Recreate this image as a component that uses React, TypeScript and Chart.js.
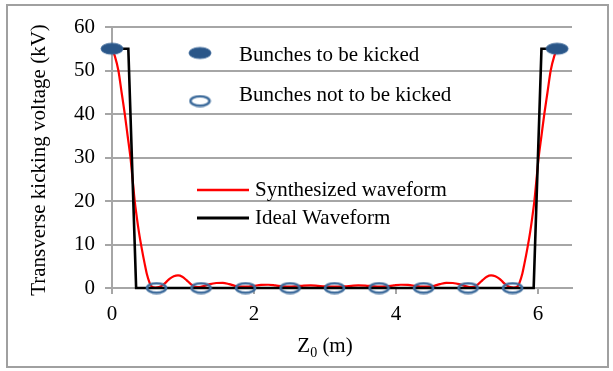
import React, { useEffect, useRef } from "react";
import { Chart, registerables } from "chart.js";
Chart.register(...registerables);

// Synthesized waveform (kV) vs Z0 (m)
const synthX = [
  0, 0.04, 0.09, 0.135, 0.18, 0.22, 0.26, 0.29, 0.32, 0.35, 0.38, 0.42, 0.46, 0.49, 0.53, 0.56,
  0.61, 0.66, 0.71, 0.76, 0.81, 0.87, 0.93, 0.99, 1.05, 1.11, 1.17, 1.23, 1.3, 1.38, 1.47, 1.56,
  1.65, 1.73, 1.81, 1.9, 2.0, 2.1, 2.2, 2.3, 2.4, 2.5, 2.6, 2.7, 2.8, 2.9, 3.0, 3.135,
  3.27, 3.37, 3.47, 3.57, 3.67, 3.77, 3.87, 3.97, 4.07, 4.17, 4.27, 4.37, 4.46, 4.54, 4.62, 4.71,
  4.8, 4.89, 4.97, 5.04, 5.1, 5.16, 5.22, 5.28, 5.34, 5.4, 5.46, 5.51, 5.56, 5.61, 5.66, 5.71,
  5.74, 5.78, 5.81, 5.85, 5.89, 5.92, 5.95, 5.98, 6.01, 6.05, 6.09, 6.135, 6.18, 6.23, 6.27,
];
const synthY = [
  55, 53.3, 50, 45, 40, 35, 30, 25, 20, 16.2, 12.8, 9, 5.6, 3.3, 1.2, 0.3,
  0.1, 0.2, 0.6, 1.3, 2.1, 2.7, 2.9, 2.6, 1.8, 0.9, 0.3, 0.2, 0.5, 0.9, 1.15, 1.2,
  0.9, 0.5, 0.3, 0.3, 0.5, 0.7, 0.75, 0.6, 0.4, 0.3, 0.4, 0.55, 0.6, 0.5, 0.4, 0.35,
  0.4, 0.5, 0.6, 0.55, 0.4, 0.3, 0.4, 0.6, 0.75, 0.7, 0.5, 0.3, 0.3, 0.5, 0.9, 1.2,
  1.15, 0.9, 0.5, 0.2, 0.3, 0.9, 1.8, 2.6, 2.9, 2.7, 2.1, 1.3, 0.6, 0.2, 0.1, 0.3,
  1.2, 3.3, 5.6, 9, 12.8, 16.2, 20, 25, 30, 35, 40, 45, 50, 53.3, 55,
];

// Ideal waveform
const idealX = [0, 0.23, 0.34, 5.94, 6.05, 6.27];
const idealY = [55, 55, 0, 0, 55, 55];

// Bunches
const kickedX = [0, 6.27];
const kickedY = [55, 55];
const notKickedX = [0.627, 1.254, 1.881, 2.508, 3.135, 3.762, 4.389, 5.016, 5.643];
const notKickedY = [0, 0, 0, 0, 0, 0, 0, 0, 0];

const xTicks = [0, 2, 4, 6];
const yTicks = [0, 10, 20, 30, 40, 50, 60];

const seriesNames = [
  "Bunches to be kicked",
  "Bunches not to be kicked",
  "Synthesized waveform",
  "Ideal Waveform",
];
const yTitle = "Transverse kicking voltage (kV)";
const xTitleMain = "Z";
const xTitleSub = "0";
const xTitleRest = " (m)";

const FONT = '"Liberation Serif", "Times New Roman", serif';
const GRID = "#a6a6a6";
const BLUE_FILL = "#2a5688";
const BLUE_EDGE = "#3a6698";
const BLUE_OPEN = "#3d6b9b";

function makeEllipse(w: number, h: number, filled: boolean): HTMLCanvasElement {
  const c = document.createElement("canvas");
  c.width = w + 4;
  c.height = h + 4;
  const ctx = c.getContext("2d")!;
  ctx.beginPath();
  ctx.ellipse(c.width / 2, c.height / 2, w / 2, h / 2, 0, 0, Math.PI * 2);
  if (filled) {
    ctx.fillStyle = BLUE_FILL;
    ctx.fill();
    ctx.lineWidth = 1;
    ctx.strokeStyle = BLUE_EDGE;
    ctx.stroke();
  } else {
    ctx.lineWidth = 2.6;
    ctx.strokeStyle = BLUE_OPEN;
    ctx.stroke();
  }
  return c;
}

export default function App() {
  const ref = useRef<HTMLCanvasElement | null>(null);

  useEffect(() => {
    document.body.style.margin = "0";
    const canvas = ref.current;
    if (!canvas) return;
    const filledImg = makeEllipse(22, 11, true);
    const openImg = makeEllipse(19, 9.5, false);

    const pts = (xs: number[], ys: number[]) => xs.map((x, i) => ({ x, y: ys[i] }));

    const decorPlugin = {
      id: "decor",
      beforeDraw(chart: any) {
        const ctx = chart.ctx;
        ctx.save();
        ctx.fillStyle = "#ffffff";
        ctx.fillRect(0, 0, chart.width, chart.height);
        ctx.lineWidth = 2;
        ctx.strokeStyle = "#a0a0a0";
        ctx.strokeRect(7, 5, 601, 362);
        ctx.restore();
      },
      afterDraw(chart: any) {
        const ctx = chart.ctx;
        ctx.save();
        ctx.fillStyle = "#000000";
        // y title
        ctx.font = `21px ${FONT}`;
        ctx.save();
        ctx.translate(45, 160);
        ctx.rotate(-Math.PI / 2);
        ctx.textAlign = "center";
        ctx.textBaseline = "alphabetic";
        ctx.fillText(yTitle, 0, 0);
        ctx.restore();
        // x title with subscript
        ctx.textAlign = "left";
        ctx.textBaseline = "alphabetic";
        ctx.font = `21px ${FONT}`;
        const wZ = ctx.measureText(xTitleMain).width;
        const wR = ctx.measureText(xTitleRest).width;
        ctx.font = `14px ${FONT}`;
        const wS = ctx.measureText(xTitleSub).width;
        const total = wZ + wS + wR;
        let xs = 325 - total / 2;
        const base = 352;
        ctx.font = `21px ${FONT}`;
        ctx.fillText(xTitleMain, xs, base);
        xs += wZ;
        ctx.font = `14px ${FONT}`;
        ctx.fillText(xTitleSub, xs, base + 5);
        xs += wS;
        ctx.font = `21px ${FONT}`;
        ctx.fillText(xTitleRest, xs, base);

        // legend
        ctx.drawImage(filledImg, 200 - filledImg.width / 2, 53 - filledImg.height / 2);
        ctx.drawImage(openImg, 200 - openImg.width / 2, 101 - openImg.height / 2);
        ctx.font = `21px ${FONT}`;
        ctx.fillStyle = "#000000";
        ctx.fillText(seriesNames[0], 239, 61);
        ctx.fillText(seriesNames[1], 239, 101);
        ctx.lineWidth = 2.5;
        ctx.strokeStyle = "#ff0000";
        ctx.beginPath();
        ctx.moveTo(197, 190);
        ctx.lineTo(249, 190);
        ctx.stroke();
        ctx.lineWidth = 3;
        ctx.strokeStyle = "#000000";
        ctx.beginPath();
        ctx.moveTo(197, 218);
        ctx.lineTo(249, 218);
        ctx.stroke();
        ctx.fillText(seriesNames[2], 255, 196);
        ctx.fillText(seriesNames[3], 255, 224);
        ctx.restore();
      },
    };

    const chart = new Chart(canvas, {
      type: "scatter",
      data: {
        datasets: [
          {
            label: seriesNames[0],
            data: pts(kickedX, kickedY),
            pointStyle: filledImg as any,
            showLine: false,
            clip: false,
            order: 0,
          },
          {
            label: seriesNames[1],
            data: pts(notKickedX, notKickedY),
            pointStyle: openImg as any,
            showLine: false,
            clip: false,
            order: 0,
          },
          {
            label: seriesNames[3],
            data: pts(idealX, idealY),
            showLine: true,
            borderColor: "#000000",
            borderWidth: 2.6,
            pointRadius: 0,
            tension: 0,
            clip: false,
            order: 1,
          },
          {
            label: seriesNames[2],
            data: pts(synthX, synthY),
            showLine: true,
            borderColor: "#ff0000",
            borderWidth: 2.2,
            pointRadius: 0,
            cubicInterpolationMode: "monotone",
            clip: false,
            order: 2,
          },
        ] as any,
      },
      options: {
        responsive: false,
        animation: false,
        devicePixelRatio: 1,
        layout: { padding: { left: 0, right: 41, top: 27, bottom: 0 } },
        plugins: {
          legend: { display: false },
          tooltip: { enabled: false },
          title: { display: false },
        },
        scales: {
          x: {
            type: "linear",
            min: 0,
            max: 6.48,
            afterBuildTicks: (scale: any) => {
              scale.ticks = xTicks.map((v) => ({ value: v }));
            },
            afterFit: (scale: any) => {
              scale.height = 83;
            },
            grid: {
              drawOnChartArea: false,
              drawTicks: true,
              tickLength: 6,
              color: GRID,
              lineWidth: 2,
            },
            border: { display: true, color: GRID, width: 2 },
            ticks: {
              font: { family: FONT, size: 21 },
              color: "#000000",
              padding: 8,
              maxRotation: 0,
            },
          },
          y: {
            type: "linear",
            min: 0,
            max: 60,
            afterBuildTicks: (scale: any) => {
              scale.ticks = yTicks.map((v) => ({ value: v }));
            },
            afterFit: (scale: any) => {
              scale.width = 112;
            },
            grid: {
              drawOnChartArea: true,
              drawTicks: true,
              tickLength: 7,
              color: GRID,
              lineWidth: 2,
            },
            border: { display: true, color: GRID, width: 2 },
            ticks: {
              font: { family: FONT, size: 21 },
              color: "#000000",
              padding: 10,
            },
          },
        },
      } as any,
      plugins: [decorPlugin],
    });
    return () => chart.destroy();
  }, []);

  return (
    <div style={{ width: 613, height: 371, position: "relative" }}>
      <canvas ref={ref} width={613} height={371} style={{ display: "block" }} />
    </div>
  );
}
